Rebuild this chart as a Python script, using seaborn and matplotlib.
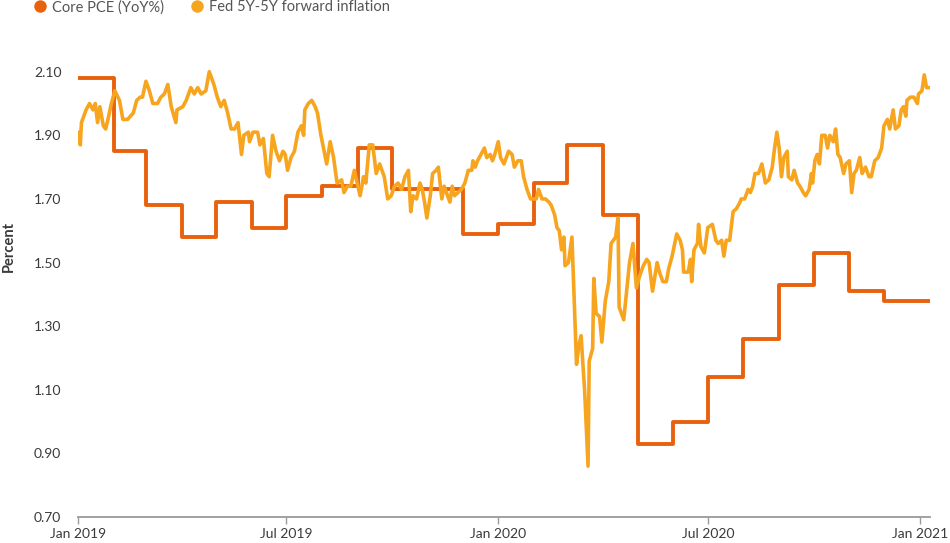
import matplotlib
matplotlib.use("Agg")
import matplotlib.pyplot as plt
from matplotlib.lines import Line2D
import seaborn as sns
import pandas as pd

# ---------------- data ----------------
pce_dates = ["2019-01-01", "2019-02-01", "2019-03-01", "2019-04-01", "2019-05-01", "2019-06-01",
             "2019-07-01", "2019-08-01", "2019-09-01", "2019-10-01", "2019-11-01", "2019-12-01",
             "2020-01-01", "2020-02-01", "2020-03-01", "2020-04-01", "2020-05-01", "2020-06-01",
             "2020-07-01", "2020-08-01", "2020-09-01", "2020-10-01", "2020-11-01", "2020-12-01"]
pce_values = [2.08, 1.85, 1.68, 1.58, 1.69, 1.61,
              1.71, 1.74, 1.86, 1.73, 1.73, 1.59,
              1.62, 1.75, 1.87, 1.65, 0.93, 1.00,
              1.14, 1.26, 1.43, 1.53, 1.41, 1.38]
series_end = "2021-01-10"

fed_dates = [
    "2019-01-02", "2019-01-03", "2019-01-04", "2019-01-08", "2019-01-11", "2019-01-14", "2019-01-16", "2019-01-18", "2019-01-20", "2019-01-23",
    "2019-01-25", "2019-01-27", "2019-01-30", "2019-02-02", "2019-02-06", "2019-02-09", "2019-02-13", "2019-02-18", "2019-02-21", "2019-02-24",
    "2019-02-26", "2019-03-01", "2019-03-04", "2019-03-07", "2019-03-11", "2019-03-14", "2019-03-17", "2019-03-20", "2019-03-23", "2019-03-27",
    "2019-03-28", "2019-04-02", "2019-04-05", "2019-04-09", "2019-04-12", "2019-04-15", "2019-04-18", "2019-04-22", "2019-04-25", "2019-04-29",
    "2019-05-02", "2019-05-05", "2019-05-08", "2019-05-11", "2019-05-14", "2019-05-17", "2019-05-20", "2019-05-23", "2019-05-25", "2019-05-29",
    "2019-05-30", "2019-06-02", "2019-06-06", "2019-06-08", "2019-06-11", "2019-06-14", "2019-06-16", "2019-06-19", "2019-06-22", "2019-06-25",
    "2019-06-28", "2019-06-30", "2019-07-02", "2019-07-05", "2019-07-08", "2019-07-11", "2019-07-14", "2019-07-16", "2019-07-17", "2019-07-20",
    "2019-07-23", "2019-07-26", "2019-07-28", "2019-07-31", "2019-08-05", "2019-08-08", "2019-08-11", "2019-08-14", "2019-08-18", "2019-08-20",
    "2019-08-23", "2019-08-26", "2019-08-29", "2019-09-03", "2019-09-06", "2019-09-08", "2019-09-11", "2019-09-14", "2019-09-17", "2019-09-20",
    "2019-09-24", "2019-09-27", "2019-09-30", "2019-10-03", "2019-10-06", "2019-10-09", "2019-10-12", "2019-10-15", "2019-10-17", "2019-10-19",
    "2019-10-22", "2019-10-25", "2019-10-27", "2019-10-29", "2019-10-31", "2019-11-03", "2019-11-05", "2019-11-08", "2019-11-10", "2019-11-13",
    "2019-11-15", "2019-11-17", "2019-11-20", "2019-11-22", "2019-11-24", "2019-11-27", "2019-11-30", "2019-12-03", "2019-12-06", "2019-12-09",
    "2019-12-10", "2019-12-12", "2019-12-14", "2019-12-17", "2019-12-20", "2019-12-22", "2019-12-25", "2019-12-27", "2019-12-29", "2020-01-01",
    "2020-01-03", "2020-01-06", "2020-01-10", "2020-01-13", "2020-01-15", "2020-01-18", "2020-01-21", "2020-01-23", "2020-01-26", "2020-01-29",
    "2020-01-31", "2020-02-03", "2020-02-05", "2020-02-08", "2020-02-11", "2020-02-14", "2020-02-16", "2020-02-19", "2020-02-21", "2020-02-23",
    "2020-02-25", "2020-02-27", "2020-02-28", "2020-03-02", "2020-03-05", "2020-03-07", "2020-03-09", "2020-03-11", "2020-03-13", "2020-03-14",
    "2020-03-16", "2020-03-19", "2020-03-20", "2020-03-23", "2020-03-24", "2020-03-26", "2020-03-29", "2020-03-31", "2020-04-03", "2020-04-06",
    "2020-04-08", "2020-04-12", "2020-04-14", "2020-04-15", "2020-04-19", "2020-04-22", "2020-04-24", "2020-04-27", "2020-04-30", "2020-05-03",
    "2020-05-06", "2020-05-09", "2020-05-11", "2020-05-14", "2020-05-18", "2020-05-20", "2020-05-23", "2020-05-26", "2020-05-28", "2020-05-31",
    "2020-06-04", "2020-06-07", "2020-06-09", "2020-06-10", "2020-06-14", "2020-06-16", "2020-06-17", "2020-06-19", "2020-06-22", "2020-06-23",
    "2020-06-25", "2020-06-28", "2020-07-01", "2020-07-05", "2020-07-08", "2020-07-10", "2020-07-13", "2020-07-15", "2020-07-17", "2020-07-20",
    "2020-07-23", "2020-07-26", "2020-07-29", "2020-07-30", "2020-08-02", "2020-08-05", "2020-08-07", "2020-08-09", "2020-08-11", "2020-08-14",
    "2020-08-17", "2020-08-20", "2020-08-23", "2020-08-26", "2020-08-28", "2020-08-30", "2020-09-01", "2020-09-03", "2020-09-05", "2020-09-08",
    "2020-09-09", "2020-09-12", "2020-09-14", "2020-09-17", "2020-09-19", "2020-09-22", "2020-09-24", "2020-09-27", "2020-09-29", "2020-09-30",
    "2020-10-02", "2020-10-04", "2020-10-06", "2020-10-08", "2020-10-11", "2020-10-13", "2020-10-15", "2020-10-18", "2020-10-20", "2020-10-22",
    "2020-10-24", "2020-10-27", "2020-10-29", "2020-11-01", "2020-11-03", "2020-11-05", "2020-11-07", "2020-11-10", "2020-11-12", "2020-11-15",
    "2020-11-18", "2020-11-20", "2020-11-23", "2020-11-26", "2020-11-29", "2020-12-01", "2020-12-04", "2020-12-06", "2020-12-09", "2020-12-11",
    "2020-12-14", "2020-12-16", "2020-12-18", "2020-12-20", "2020-12-21", "2020-12-24", "2020-12-27", "2020-12-30", "2020-12-31", "2021-01-03",
    "2021-01-05", "2021-01-07", "2021-01-10"]
fed_values = [
    1.91, 1.87, 1.94, 1.98, 2.00, 1.98, 2.00, 1.94, 1.99, 1.93,
    1.92, 1.95, 2.00, 2.04, 2.01, 1.95, 1.95, 1.97, 2.01, 2.02,
    2.02, 2.07, 2.04, 2.00, 2.00, 2.02, 2.03, 2.06, 1.99, 1.94,
    1.98, 1.99, 2.01, 2.05, 2.03, 2.05, 2.03, 2.04, 2.10, 2.06,
    2.02, 1.99, 2.01, 1.97, 1.92, 1.92, 1.94, 1.84, 1.90, 1.91,
    1.88, 1.91, 1.91, 1.87, 1.89, 1.78, 1.77, 1.90, 1.85, 1.82,
    1.85, 1.84, 1.79, 1.83, 1.85, 1.91, 1.93, 1.90, 1.98, 2.00,
    2.01, 1.99, 1.97, 1.90, 1.81, 1.88, 1.83, 1.75, 1.76, 1.72,
    1.74, 1.74, 1.79, 1.71, 1.77, 1.75, 1.87, 1.87, 1.78, 1.81,
    1.77, 1.70, 1.71, 1.74, 1.75, 1.73, 1.77, 1.79, 1.66, 1.71,
    1.70, 1.75, 1.73, 1.69, 1.64, 1.71, 1.78, 1.79, 1.80, 1.70,
    1.74, 1.72, 1.69, 1.74, 1.71, 1.72, 1.73, 1.75, 1.79, 1.79,
    1.82, 1.80, 1.82, 1.84, 1.86, 1.83, 1.84, 1.82, 1.84, 1.88,
    1.83, 1.81, 1.85, 1.84, 1.80, 1.82, 1.82, 1.77, 1.73, 1.70,
    1.70, 1.70, 1.73, 1.70, 1.70, 1.69, 1.68, 1.65, 1.61, 1.60,
    1.54, 1.58, 1.49, 1.50, 1.58, 1.38, 1.18, 1.24, 1.27, 1.21,
    1.10, 0.86, 1.19, 1.23, 1.45, 1.34, 1.33, 1.25, 1.38, 1.44,
    1.56, 1.58, 1.64, 1.36, 1.32, 1.43, 1.50, 1.56, 1.42, 1.46,
    1.49, 1.51, 1.50, 1.41, 1.50, 1.47, 1.44, 1.44, 1.48, 1.52,
    1.59, 1.57, 1.54, 1.47, 1.47, 1.51, 1.44, 1.54, 1.56, 1.62,
    1.55, 1.53, 1.61, 1.62, 1.57, 1.56, 1.57, 1.52, 1.57, 1.57,
    1.66, 1.67, 1.69, 1.70, 1.70, 1.73, 1.72, 1.74, 1.78, 1.78,
    1.81, 1.75, 1.76, 1.80, 1.86, 1.91, 1.86, 1.77, 1.83, 1.85,
    1.77, 1.76, 1.79, 1.75, 1.74, 1.72, 1.71, 1.73, 1.78, 1.75,
    1.82, 1.84, 1.81, 1.90, 1.90, 1.86, 1.90, 1.88, 1.92, 1.84,
    1.83, 1.78, 1.81, 1.82, 1.72, 1.78, 1.79, 1.83, 1.78, 1.80,
    1.77, 1.77, 1.82, 1.83, 1.86, 1.93, 1.95, 1.92, 1.98, 1.92,
    1.93, 1.98, 1.99, 1.96, 2.01, 2.02, 2.02, 2.00, 2.03, 2.04,
    2.09, 2.05, 2.05]

series_names = ["Core PCE (YoY%)", "Fed 5Y-5Y forward inflation"]
x_tick_dates = ["2019-01-01", "2019-07-01", "2020-01-01", "2020-07-01", "2021-01-01"]
x_tick_labels = ["Jan 2019", "Jul 2019", "Jan 2020", "Jul 2020", "Jan 2021"]
y_ticks = [0.70, 0.90, 1.10, 1.30, 1.50, 1.70, 1.90, 2.10]
y_label = "Percent"

# ---------------- style ----------------
PCE_COLOR = "#E8620E"
FED_COLOR = "#F7A51E"
TEXT_COLOR = "#3a3a3a"
AXIS_COLOR = "#9a9a9a"

sns.set_style("white")
plt.rcParams['font.family'] = ['Lato', 'DejaVu Sans']

fig = plt.figure(figsize=(9.5, 5.43), dpi=100)
ax = fig.add_axes([78 / 950, 26 / 543, (930 - 78) / 950, (517 - 59) / 543])

pce_df = pd.DataFrame({"date": pd.to_datetime(pce_dates + [series_end]),
                       "value": pce_values + [pce_values[-1]]})
fed_df = pd.DataFrame({"date": pd.to_datetime(fed_dates), "value": fed_values})

sns.lineplot(data=pce_df, x="date", y="value", ax=ax, color=PCE_COLOR,
             linewidth=2.8, drawstyle="steps-post", zorder=2, legend=False)
sns.lineplot(data=fed_df, x="date", y="value", ax=ax, color=FED_COLOR,
             linewidth=2.6, zorder=3, legend=False)

ax.set_xlim(pd.Timestamp("2019-01-01"), pd.Timestamp(series_end))
ax.set_ylim(0.70, 2.14)

ax.set_xticks(pd.to_datetime(x_tick_dates))
ax.set_xticklabels(x_tick_labels)
ax.set_yticks(y_ticks)
ax.set_yticklabels([f"{v:.2f}" for v in y_ticks])

for s in ["top", "right", "left"]:
    ax.spines[s].set_visible(False)
ax.spines["bottom"].set_color(AXIS_COLOR)
ax.spines["bottom"].set_linewidth(1.3)

ax.tick_params(axis="x", direction="out", length=5, width=1, color=AXIS_COLOR,
               labelsize=10, labelcolor=TEXT_COLOR, pad=3, bottom=True)
ax.tick_params(axis="y", length=0, labelsize=10, labelcolor=TEXT_COLOR, pad=12)

ax.set_xlabel("")
ax.set_ylabel(y_label, fontsize=10.5, fontweight="bold", color=TEXT_COLOR)
ax.yaxis.set_label_coords(-0.0725, 0.59)
ax.grid(False)

handles = [Line2D([], [], marker="o", linestyle="", markersize=9, color=c,
                  markeredgewidth=0) for c in (PCE_COLOR, FED_COLOR)]
fig.legend(handles, series_names, loc="upper left", bbox_to_anchor=(0.036, 1.0),
           ncol=2, frameon=False, fontsize=10.5, handlelength=0.8,
           handletextpad=0.4, columnspacing=1.9, borderaxespad=0, borderpad=0,
           labelcolor="#555555")

fig.savefig("out.png", dpi=100)
